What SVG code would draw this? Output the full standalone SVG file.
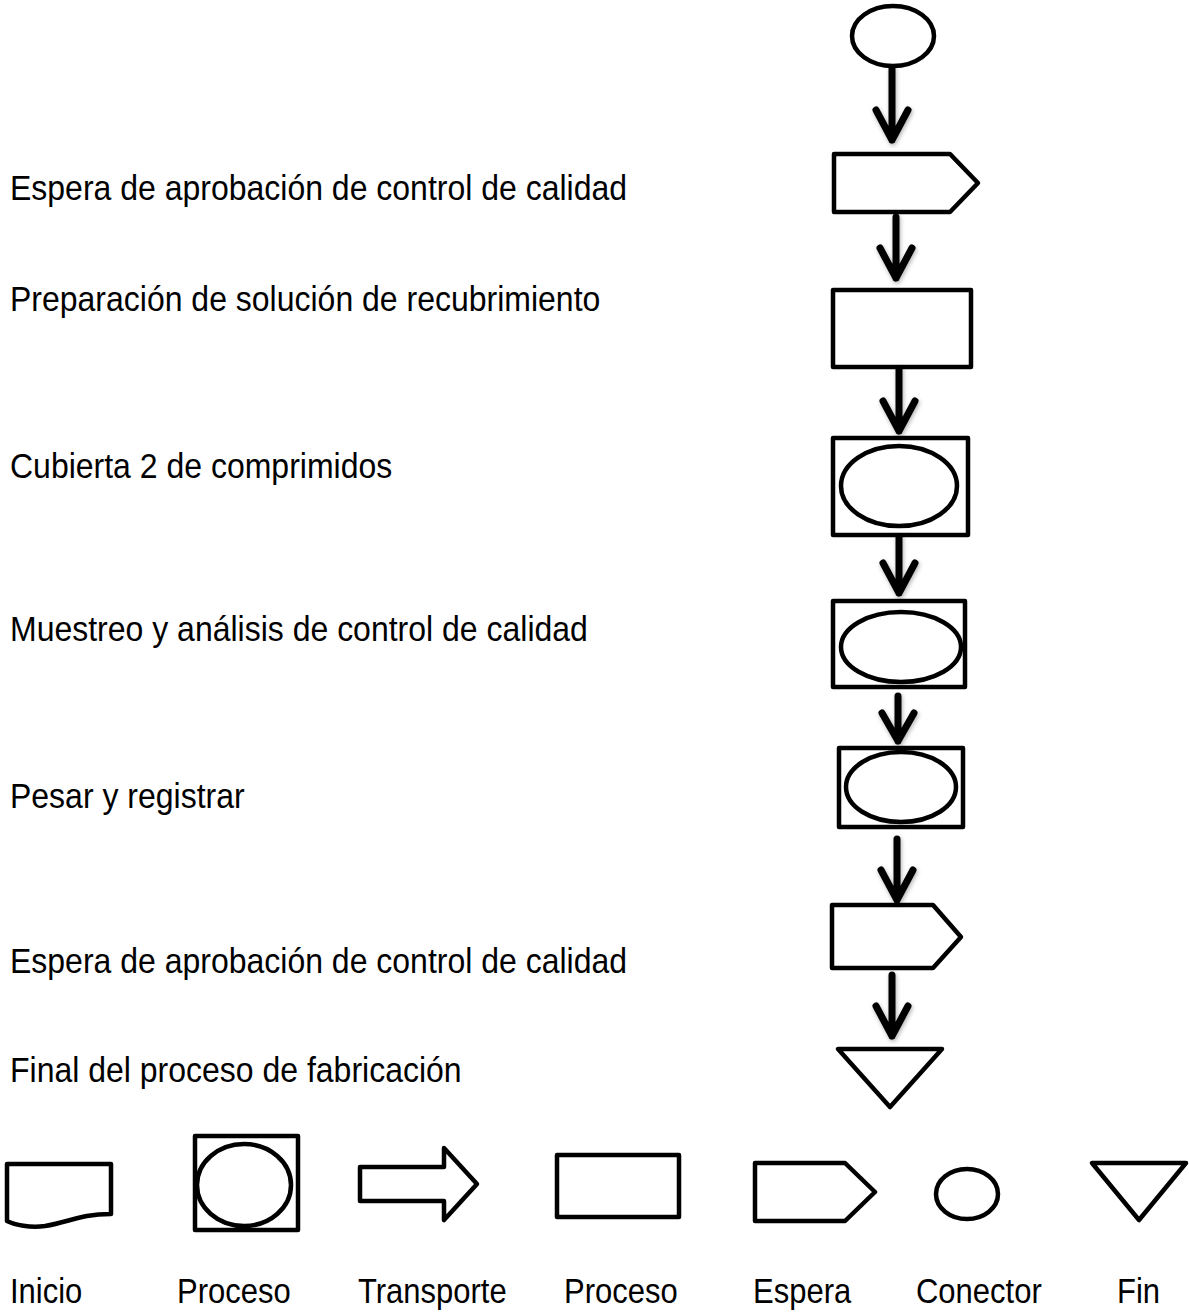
<svg xmlns="http://www.w3.org/2000/svg" width="1189" height="1313" viewBox="0 0 1189 1313">
  <defs>
    <filter id="soft" x="-50%" y="-20%" width="200%" height="140%">
      <feDropShadow dx="1" dy="2" stdDeviation="2" flood-color="#000" flood-opacity="0.3"/>
    </filter>
  </defs>
  <style>
    .shape { fill: #fff; stroke: #000; stroke-width: 4.5; stroke-linejoin: round; }
    .arrow { fill: none; stroke: #000; stroke-width: 7; stroke-linecap: round; stroke-linejoin: round; }
    .label { font-family: "Liberation Sans", Arial, sans-serif; font-size: 32px; fill: #000; }
    .legend-label { font-family: "Liberation Sans", Arial, sans-serif; font-size: 31px; fill: #000; }
  </style>
  <rect width="1189" height="1313" fill="#fff"/>

  <!-- step descriptions (slightly tall lettering) -->
  <g id="labels">
    <text class="label" x="10" y="0" transform="translate(0,200) scale(1,1.1)">Espera de aprobación de control de calidad</text>
    <text class="label" x="10" y="0" transform="translate(0,311) scale(1,1.1)">Preparación de solución de recubrimiento</text>
    <text class="label" x="10" y="0" transform="translate(0,478) scale(1,1.1)">Cubierta 2 de comprimidos</text>
    <text class="label" x="10" y="0" transform="translate(0,641) scale(1,1.1)">Muestreo y análisis de control de calidad</text>
    <text class="label" x="10" y="0" transform="translate(0,808) scale(1,1.1)">Pesar y registrar</text>
    <text class="label" x="10" y="0" transform="translate(0,973) scale(1,1.1)">Espera de aprobación de control de calidad</text>
    <text class="label" x="10" y="0" transform="translate(0,1082) scale(1,1.1)">Final del proceso de fabricación</text>
  </g>

  <!-- process chain -->
  <g id="n-start"><ellipse class="shape" cx="893" cy="36" rx="41" ry="30"/></g>
  <g id="n-wait1"><path class="shape" d="M834,154 H950 L978,183 L950,212 H834 Z"/></g>
  <g id="n-prep"><rect class="shape" x="833" y="290" width="138" height="77"/></g>
  <g id="n-coat">
    <rect class="shape" x="833" y="438" width="135" height="97"/>
    <ellipse class="shape" cx="899" cy="486" rx="58" ry="40"/>
  </g>
  <g id="n-sample">
    <rect class="shape" x="833" y="601" width="132" height="86"/>
    <ellipse class="shape" cx="901" cy="647" rx="60" ry="35"/>
  </g>
  <g id="n-weigh">
    <rect class="shape" x="839" y="748" width="124" height="79"/>
    <ellipse class="shape" cx="901" cy="787" rx="55" ry="35"/>
  </g>
  <g id="n-wait2"><path class="shape" d="M832,905 H933 L961,937 L933,968 H832 Z"/></g>
  <g id="n-end"><path class="shape" d="M838,1049 H942 L890,1107 Z"/></g>

  <!-- connectors between steps -->
  <g id="connectors" filter="url(#soft)">
    <path class="arrow" d="M892,68 V140 M876,110 L892,140 L908,110"/>
    <path class="arrow" d="M896,217 V278 M880,248 L896,278 L912,248"/>
    <path class="arrow" d="M899,369 V431 M883,401 L899,431 L915,401"/>
    <path class="arrow" d="M899,537 V593 M883,563 L899,593 L915,563"/>
    <path class="arrow" d="M898,696 V741 M882,713 L898,741 L914,713"/>
    <path class="arrow" d="M897,839 V900 M881,870 L897,900 L913,870"/>
    <path class="arrow" d="M892,975 V1036 M876,1006 L892,1036 L908,1006"/>
  </g>

  <!-- symbol legend -->
  <g id="leg-inicio">
    <path class="shape" d="M7,1164 H111 V1214 C80,1214 70,1222 45,1226 C30,1228 15,1225 7,1221 Z"/>
    <text class="legend-label" x="10" y="0" transform="translate(0,1303) scale(1,1.12)">Inicio</text>
  </g>
  <g id="leg-proceso-op">
    <rect class="shape" x="195" y="1136" width="103" height="94"/>
    <ellipse class="shape" cx="244" cy="1185" rx="47" ry="41"/>
    <text class="legend-label" x="177" y="0" transform="translate(0,1303) scale(1,1.12)">Proceso</text>
  </g>
  <g id="leg-transporte">
    <path class="shape" d="M360,1167 H444 V1148 L477,1184 L444,1220 V1201 H360 Z"/>
    <text class="legend-label" x="358" y="0" transform="translate(0,1303) scale(1,1.12)">Transporte</text>
  </g>
  <g id="leg-proceso">
    <rect class="shape" x="557" y="1155" width="122" height="62"/>
    <text class="legend-label" x="564" y="0" transform="translate(0,1303) scale(1,1.12)">Proceso</text>
  </g>
  <g id="leg-espera">
    <path class="shape" d="M755,1163 H845 L875,1192 L845,1221 H755 Z"/>
    <text class="legend-label" x="753" y="0" transform="translate(0,1303) scale(1,1.12)">Espera</text>
  </g>
  <g id="leg-conector">
    <ellipse class="shape" cx="967" cy="1194" rx="31" ry="25"/>
    <text class="legend-label" x="916" y="0" transform="translate(0,1303) scale(1,1.12)">Conector</text>
  </g>
  <g id="leg-fin">
    <path class="shape" d="M1092,1163 H1186 L1139,1220 Z"/>
    <text class="legend-label" x="1117" y="0" transform="translate(0,1303) scale(1,1.12)">Fin</text>
  </g>
</svg>
